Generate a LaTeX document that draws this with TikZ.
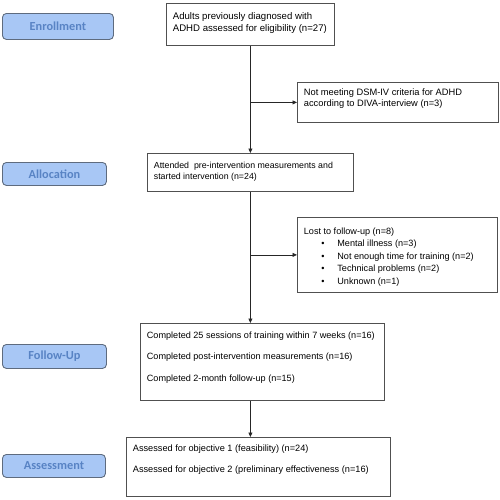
\documentclass[tikz,border=0pt]{standalone}
\usepackage{fontspec}
\setmainfont{Liberation Sans}
\newfontfamily\labelfont{Carlito}
\usetikzlibrary{arrows.meta}
\definecolor{lblfill}{HTML}{A8C7F5}
\definecolor{lbldraw}{HTML}{5E6B7E}
\definecolor{lbltext}{HTML}{5883C4}
\definecolor{boxdraw}{HTML}{505050}
% width, height, font size, baselineskip, first baseline, text
\newcommand\boxtxt[6]{\parbox[c][#2][t]{#1}{\fontsize{#3}{#4}\selectfont\raggedright\vspace*{\dimexpr#5-0.7\baselineskip\relax}\strut #6}}
\newcommand\bul[1]{\hspace*{17.5pt}\makebox[16pt][l]{\textbullet}#1}
\begin{document}
\begin{tikzpicture}[x=1pt,y=-1pt,
  box/.style={draw=boxdraw, line width=0.8pt, inner xsep=6.5pt, inner ysep=0pt, anchor=north west, fill=white},
  phase/.style={draw=lbldraw, fill=lblfill, line width=0.9pt, rounded corners=4pt, anchor=north west, inner sep=0pt, font=\labelfont\bfseries\fontsize{12.3}{14}\selectfont, text=lbltext},
  conn/.style={line width=0.8pt, draw=black!85},
  arr/.style={conn, -{Triangle[length=4.5pt,width=4pt]}}]
\useasboundingbox (0,0) rectangle (500,499);

% phase labels
\node[phase, minimum width=111pt, minimum height=26pt] (enr) at (2,13) {Enrollment};
\node[phase, minimum width=104pt, minimum height=23pt] (all) at (2,162) {Allocation};
\node[phase, minimum width=104pt, minimum height=24pt] (fol) at (2,344) {Follow-Up};
\node[phase, minimum width=103pt, minimum height=23pt] (ass) at (2,454) {Assessment};

% flow boxes
\node[box] (b1) at (166,3) {\boxtxt{155pt}{42pt}{9.6}{12}{16pt}{Adults previously diagnosed with\\ADHD assessed for eligibility (n=27)}};
\node[box] (ex) at (297,82) {\boxtxt{188pt}{40pt}{9.3}{11.5}{13pt}{Not meeting DSM-IV criteria for ADHD\\according to DIVA-interview (n=3)}};
\node[box] (b2) at (147,153) {\boxtxt{193pt}{38pt}{8.8}{11}{15.5pt}{Attended\ \ pre-intervention measurements and\\started intervention (n=24)}};
\node[box] (lost) at (297,217) {\boxtxt{187pt}{75pt}{9.1}{12.5}{17pt}{Lost to follow-up (n=8)\\\bul{Mental illness (n=3)}\\\bul{Not enough time for training (n=2)}\\\bul{Technical problems (n=2)}\\\bul{Unknown (n=1)}}};
\node[box] (b3) at (140,323) {\boxtxt{231pt}{77pt}{9.1}{21.5}{15pt}{Completed 25 sessions of training within 7 weeks (n=16)\\Completed post-intervention measurements (n=16)\\Completed 2-month follow-up (n=15)}};
\node[box] (b4) at (126,437) {\boxtxt{251pt}{59pt}{9.2}{21}{14.5pt}{Assessed for objective 1 (feasibility) (n=24)\\Assessed for objective 2 (preliminary effectiveness (n=16)}};

% connectors
\draw[arr] (b1.south) -- (b1.south |- b2.north);
\coordinate (j1) at (b1.south |- ex.west);
\draw[arr] (j1) -- (ex.west);
\draw[arr] (b2.south) -- (b2.south |- b3.north);
\coordinate (j2) at (b2.south |- lost.west);
\draw[arr] (j2) -- (lost.west);
\coordinate (s3) at (b2.south |- b3.south);
\draw[arr] (s3) -- (s3 |- b4.north);
\end{tikzpicture}
\end{document}
